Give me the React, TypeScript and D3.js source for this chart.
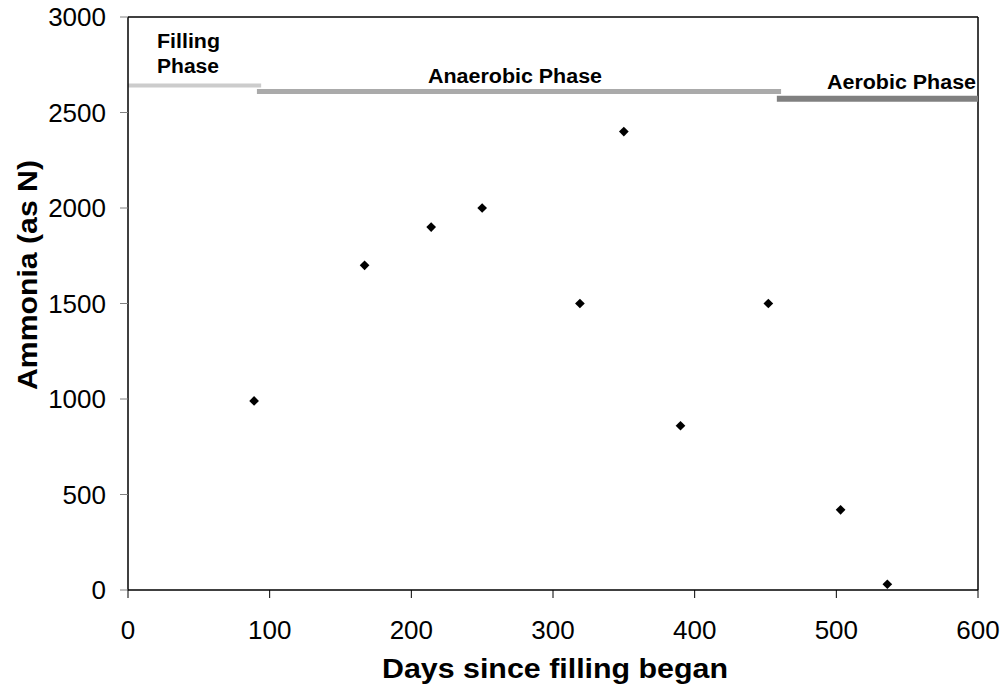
import React from "react";
import * as d3 from "d3";

// Ammonia concentration over the life of the cell
const days = [89, 167, 214, 250, 319, 350, 390, 452, 503, 536];
const ammonia = [990, 1700, 1900, 2000, 1500, 2400, 860, 1500, 420, 30];

const xTicks = [0, 100, 200, 300, 400, 500, 600];
const yTicks = [0, 500, 1000, 1500, 2000, 2500, 3000];

// Operating phases: start day, end day, level on the ammonia axis
const phaseNames = ["Filling Phase", "Anaerobic Phase", "Aerobic Phase"];
const phaseStart = [0, 91, 458];
const phaseEnd = [94, 461, 600];
const phaseLevel = [2642, 2610, 2572];
const phaseColors = ["#cccccc", "#aaaaaa", "#808080"];
const phaseWidths = [4, 5, 6];

const W = 1006;
const H = 690;
const m = { left: 128, top: 17, right: 978, bottom: 590 };
const font = "'Liberation Sans', Arial, sans-serif";

export default function App() {
  const x = d3.scaleLinear().domain([0, 600]).range([m.left, m.right]);
  const y = d3.scaleLinear().domain([0, 3000]).range([m.bottom, m.top]);
  const diamond = d3.symbol().type(d3.symbolDiamond2).size(60)();

  return (
    <svg
      width={W}
      height={H}
      style={{ position: "absolute", left: 0, top: 0, background: "#fff" }}
      fontFamily={font}
    >
      {/* frame */}
      <line x1={m.left} x2={m.right} y1={m.top} y2={m.top} stroke="#000" strokeWidth={1.5} />
      <line x1={m.right} x2={m.right} y1={m.top} y2={m.bottom} stroke="#000" strokeWidth={1.5} />

      {/* phase bars */}
      {phaseNames.map((p, i) => (
        <line
          key={p}
          x1={x(phaseStart[i])}
          x2={x(phaseEnd[i])}
          y1={y(phaseLevel[i])}
          y2={y(phaseLevel[i])}
          stroke={phaseColors[i]}
          strokeWidth={phaseWidths[i]}
        />
      ))}

      {/* phase labels */}
      <g fontSize={20} fontWeight="bold">
        <text x={157} y={48} textLength={63} lengthAdjust="spacingAndGlyphs">Filling</text>
        <text x={157} y={73} textLength={62} lengthAdjust="spacingAndGlyphs">Phase</text>
        <text x={428} y={83} textLength={174} lengthAdjust="spacingAndGlyphs">Anaerobic Phase</text>
        <text x={827} y={89} textLength={149} lengthAdjust="spacingAndGlyphs">Aerobic Phase</text>
      </g>

      {/* y axis */}
      <line x1={m.left} x2={m.left} y1={m.top} y2={m.bottom} stroke="#000" strokeWidth={1.5} />
      {yTicks.map((t) => (
        <g key={t}>
          <line x1={m.left - 8} x2={m.left} y1={y(t)} y2={y(t)} stroke="#808080" strokeWidth={1} />
          <text x={106} y={y(t)} dy="0.35em" fontSize={26} textAnchor="end">{t}</text>
        </g>
      ))}

      {/* x axis */}
      <line x1={m.left} x2={m.right} y1={m.bottom} y2={m.bottom} stroke="#000" strokeWidth={1.5} />
      {xTicks.map((t) => (
        <g key={t}>
          <line x1={x(t)} x2={x(t)} y1={m.bottom} y2={m.bottom + 8} stroke="#000" strokeWidth={1} />
          <text x={x(t)} y={639} fontSize={26} textAnchor="middle">{t}</text>
        </g>
      ))}

      {/* points */}
      {days.map((d, i) => (
        <path key={i} d={diamond} transform={`translate(${x(d)},${y(ammonia[i])})`} fill="#000" />
      ))}

      {/* axis titles */}
      <text x={382} y={678} fontSize={27} fontWeight="bold" textLength={346} lengthAdjust="spacingAndGlyphs">
        Days since filling began
      </text>
      <text
        transform="translate(37,390) rotate(-90)"
        fontSize={28}
        fontWeight="bold"
        textLength={230}
        lengthAdjust="spacingAndGlyphs"
      >
        Ammonia (as N)
      </text>
    </svg>
  );
}
